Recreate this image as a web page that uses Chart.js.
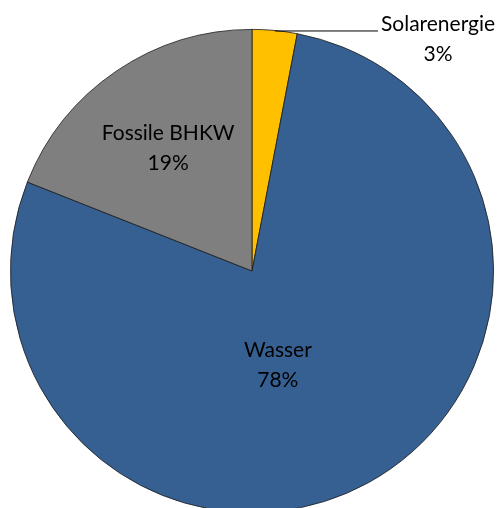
<!DOCTYPE html>
<html>
<head>
<meta charset="utf-8">
<script src="https://cdn.jsdelivr.net/npm/chart.js@4/dist/chart.umd.min.js"></script>
<style>
html,body{margin:0;padding:0;background:#fff;overflow:hidden;width:504px;height:508px;}
#wrap{position:absolute;left:0;top:0;width:504px;height:542px;}
</style>
</head>
<body>
<div id="wrap"><canvas id="c" width="504" height="542"></canvas></div>
<script>
const categories = ['Solarenergie', 'Wasser', 'Fossile BHKW'];
const values = [3, 78, 19];
const percentLabels = ['3%', '78%', '19%'];
const colors = ['#FFC000', '#376092', '#7F7F7F'];

// label placement (relative to pie centre, in units of radius) and leader-line flags
const labelPlace = [
  {dx: 0.77, dy: -0.96, leader: true},
  {dx: 0.107, dy: 0.388, leader: false},
  {dx: -0.347, dy: -0.51, leader: false}
];

const labelPlugin = {
  id: 'pieLabels',
  afterDatasetsDraw(chart) {
    const ctx = chart.ctx;
    const meta = chart.getDatasetMeta(0);
    const font = '21px "Lato", "Liberation Sans", sans-serif';
    ctx.save();
    ctx.font = font;
    ctx.fillStyle = '#000';
    ctx.textAlign = 'center';
    ctx.textBaseline = 'middle';
    meta.data.forEach((arc, i) => {
      const cx = arc.x, cy = arc.y, r = arc.outerRadius;
      const p = labelPlace[i];
      const lx = cx + p.dx * r, ly = cy + p.dy * r;
      ctx.fillText(categories[i], lx, ly - 15);
      ctx.fillText(percentLabels[i], lx, ly + 15);
      if (p.leader) {
        const mid = (arc.startAngle + arc.endAngle) / 2;
        const ax = cx + Math.cos(mid) * r, ay = cy + Math.sin(mid) * r;
        const w = ctx.measureText(categories[i]).width;
        ctx.beginPath();
        ctx.strokeStyle = '#000';
        ctx.lineWidth = 1;
        ctx.moveTo(ax, ay + 0.5);
        ctx.lineTo(lx - w / 2 - 3, ay + 0.5);
        ctx.stroke();
      }
    });
    ctx.restore();
  }
};

new Chart(document.getElementById('c'), {
  type: 'pie',
  data: {
    labels: categories,
    datasets: [{
      data: values,
      backgroundColor: colors,
      borderColor: '#1a1a1a',
      borderWidth: 0.8
    }]
  },
  options: {
    responsive: false,
    animation: false,
    rotation: 0,
    layout: {padding: {left: 10, right: 10, top: 29, bottom: 29}},
    plugins: {legend: {display: false}, tooltip: {enabled: false}}
  },
  plugins: [labelPlugin]
});
</script>
</body>
</html>
